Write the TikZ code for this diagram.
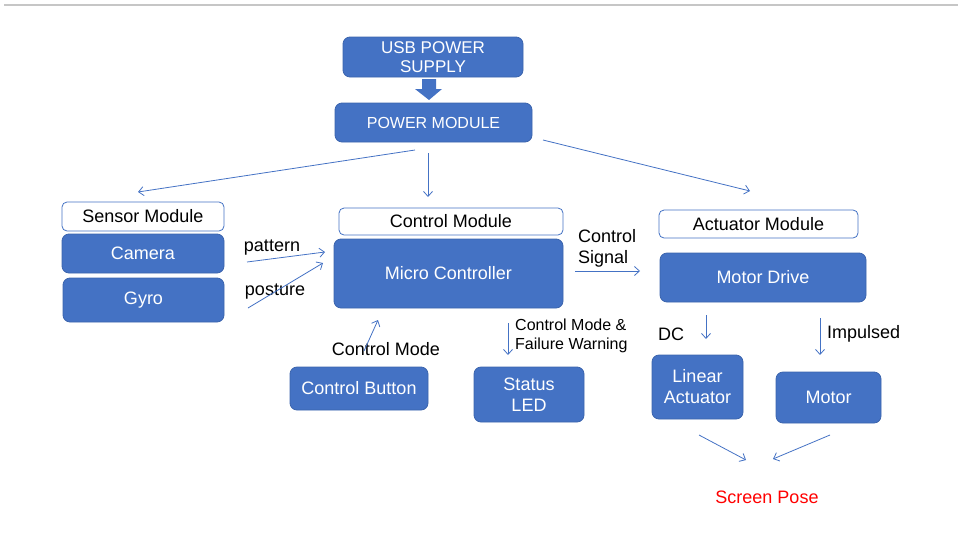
\documentclass[tikz,border=0pt]{standalone}
\usepackage{fontspec}
\setmainfont{Liberation Sans}
\usetikzlibrary{positioning,shapes,arrows.meta}

\definecolor{blkblue}{HTML}{4472C4}
\definecolor{blkedge}{HTML}{3B64AD}
\definecolor{posered}{HTML}{FF0000}

\tikzset{
  blk/.style={draw=blkedge, fill=blkblue, rounded corners=7pt, text=white, align=center,
    inner sep=0pt, line width=0.8pt, font=\fontsize{18}{21}\selectfont},
  hdr/.style={draw=blkblue, fill=white, rounded corners=5pt, inner sep=0pt,
    line width=0.8pt, font=\fontsize{18}{21}\selectfont},
  lbl/.style={inner sep=0pt, align=left, yshift=-2pt, font=\fontsize{18}{21}\selectfont},
  arr/.style={draw=blkblue, line width=0.8pt, -{Straight Barb[length=5pt,width=9pt]}}
}

\begin{document}
\begin{tikzpicture}[x=1pt, y=-1pt]
\useasboundingbox (0,0) rectangle (958,544);
\draw[line width=1.5pt, color=gray!45](4,5) -- (958,5);

\node[blk, minimum width=180pt, minimum height=40pt, font=\fontsize{17}{19}\selectfont] (usb) at (433,57) {USB POWER\\SUPPLY};
\node[blk, minimum width=197pt, minimum height=39pt, font=\fontsize{16}{19}\selectfont] (power) at (433.5,122.5) {POWER MODULE};
\fill[blkblue](422,79) -- (436,79) -- (436,89) -- (442,89) -- (429,100) -- (415,89) -- (422,89) -- cycle;

\node[hdr, minimum width=162pt, minimum height=29pt] (sensor) at (143,216.5) {Sensor Module};
\node[blk, minimum width=162pt, minimum height=39pt] (camera) at (143,253.5) {Camera};
\node[blk, minimum width=161pt, minimum height=44pt] (gyro) at (143.5,300) {Gyro};

\node[hdr, minimum width=224pt, minimum height=27pt] (ctrl) at (451,221.5) {Control Module};
\node[blk, minimum width=229pt, minimum height=69pt] (mcu) at (448.5,273.5) {Micro Controller};
\node[blk, minimum width=138pt, minimum height=43pt] (button) at (359,388.5) {Control Button};
\node[blk, minimum width=110pt, minimum height=55pt] (led) at (529,394.5) {Status\\LED};

\node[hdr, minimum width=199pt, minimum height=28pt] (act) at (758.5,224) {Actuator Module};
\node[blk, minimum width=206pt, minimum height=49pt] (drive) at (763,277.5) {Motor Drive};
\node[blk, minimum width=91pt, minimum height=64pt] (linear) at (697.5,387) {Linear\\Actuator};
\node[blk, minimum width=105pt, minimum height=51pt] (motor) at (828.5,397.5) {Motor};

\node[lbl] (pattern) at (272,246) {pattern};
\node[lbl] (posture) at (275,290) {posture};
\node[lbl] (modelbl) at (386,347) {Control Mode};
\node[lbl, anchor=west] (signal) at (578,246.5) {Control\\Signal};
\node[lbl, anchor=west, font=\fontsize{16}{19}\selectfont] (warn) at (515,333.5) {Control Mode \&\\Failure Warning};
\node[lbl] (dc) at (671,332) {DC};
\node[lbl, anchor=west] (impulsed) at (827,332) {Impulsed};
\node[lbl, text=posered] (pose) at (767,495) {Screen Pose};

\coordinate (pw1) at (415,150);
\coordinate (pw2) at (428,153);
\coordinate (pw3) at (543,140);
\coordinate (sn0) at (138,192);
\coordinate (ct0) at (428,197);
\coordinate (ac0) at (750,191);
\coordinate (pat0) at (247,262);
\coordinate (pat1) at (325,252);
\coordinate (pos0) at (248,308);
\coordinate (pos1) at (323,263);
\coordinate (sig0) at (575,271);
\coordinate (sig1) at (640,271);
\coordinate (mod0) at (364,351);
\coordinate (mod1) at (378,320);
\coordinate (wr0) at (508,323);
\coordinate (wr1) at (508,355);
\coordinate (dc0) at (706,315);
\coordinate (dc1) at (706,339);
\coordinate (im0) at (820,318);
\coordinate (im1) at (820,355);
\coordinate (la0) at (699,435);
\coordinate (la1) at (746,460);
\coordinate (mo0) at (830,435);
\coordinate (mo1) at (773,459);

\draw[arr](pw1) -- (sn0);
\draw[arr](pw2) -- (ct0);
\draw[arr](pw3) -- (ac0);
\draw[arr](pat0) -- (pat1);
\draw[arr](pos0) -- (pos1);
\draw[arr](sig0) -- (sig1);
\draw[arr](mod0) -- (mod1);
\draw[arr](wr0) -- (wr1);
\draw[arr](dc0) -- (dc1);
\draw[arr](im0) -- (im1);
\draw[arr](la0) -- (la1);
\draw[arr](mo0) -- (mo1);
\end{tikzpicture}
\end{document}
